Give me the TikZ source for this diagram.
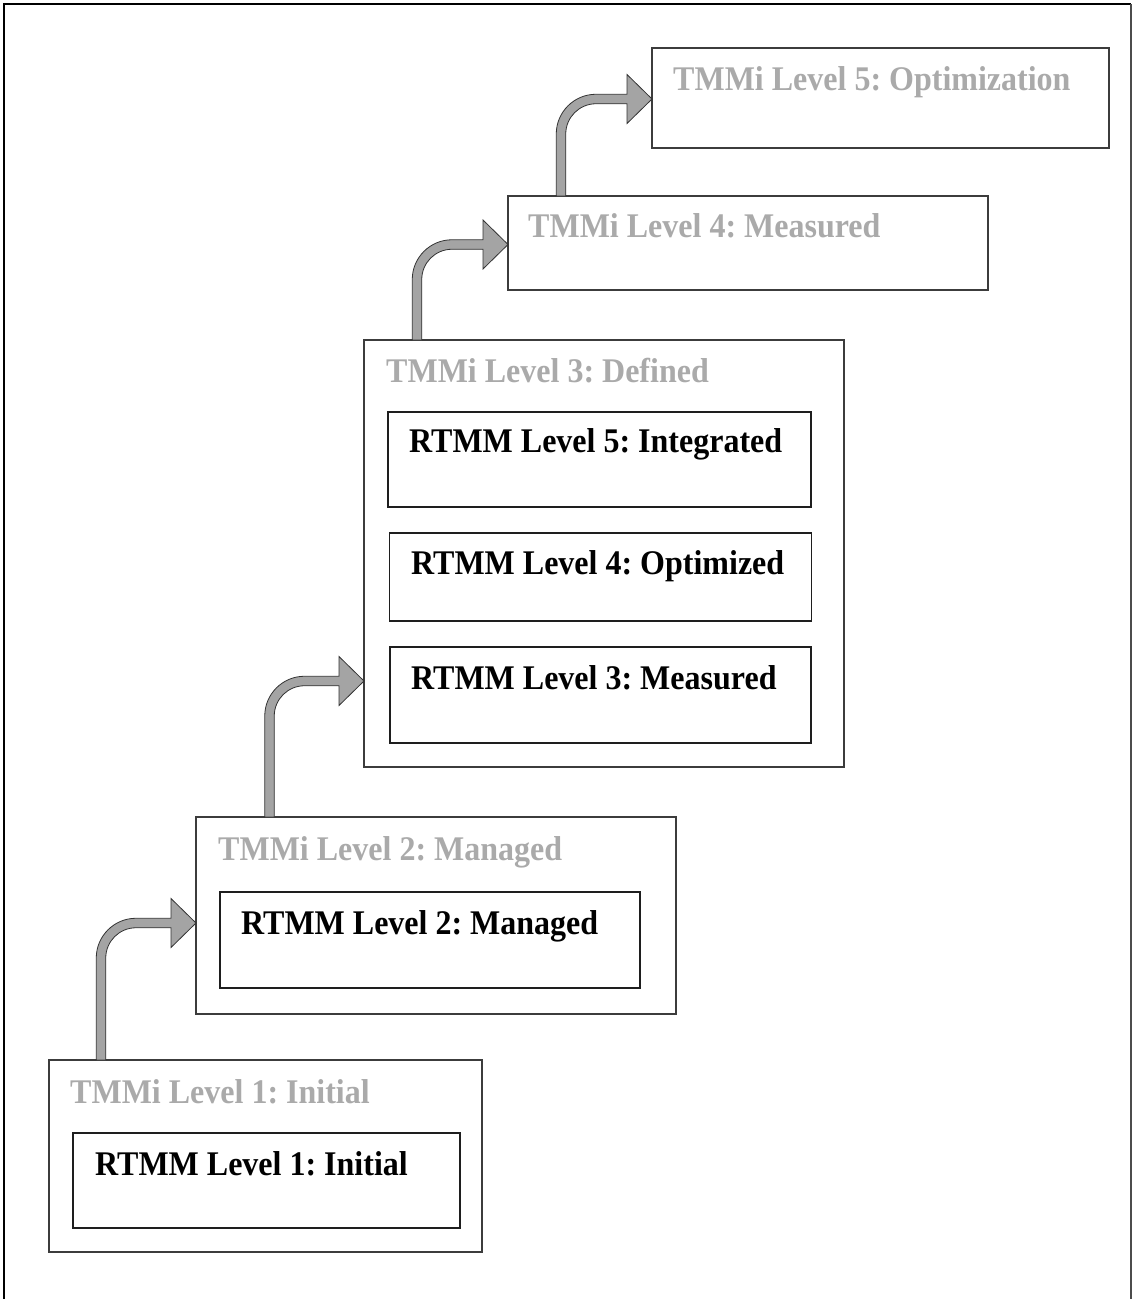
\documentclass[tikz,border=0pt]{standalone}
\usepackage{fontspec}
\setmainfont{Liberation Serif}
\usepackage{graphicx}
\usetikzlibrary{calc}
\frenchspacing

\definecolor{boxline}{HTML}{3C3C3C}
\definecolor{innerline}{HTML}{1E1E1E}
\definecolor{levelgray}{HTML}{AAAAAA}
\definecolor{arrowgray}{HTML}{A4A4A4}

\tikzset{
  levelbox/.style={draw=boxline, line width=1.2pt, rectangle, anchor=north west,
                   outer sep=0pt, inner sep=0pt},
  rtmmbox/.style={draw=innerline, line width=1.1pt, rectangle, anchor=north west,
                  outer sep=0pt, inner sep=0pt},
  tmmilabel/.style={anchor=base west, inner sep=0pt, text=levelgray,
                    font=\fontsize{32}{38}\selectfont\bfseries},
  rtmmlabel/.style={anchor=base west, inner sep=0pt, text=black,
                    font=\fontsize{32}{38}\selectfont\bfseries},
  bentarrowstyle/.style={fill=arrowgray, draw=black!80, line width=0.8pt, line join=miter},
}

% text slightly stretched vertically
\newcommand{\tallt}[1]{\scalebox{1}[1.08]{#1}}

% bent arrow: #1 = foot of the vertical shaft, #2 = tip of the head
\newcommand{\bentarrow}[2]{%
  \path[bentarrowstyle] let \p1 = #1, \p2 = #2 in
    (\x1-4.75pt,\y1) -- (\x1-4.75pt,\y2-35pt)
    .. controls (\x1-4.75pt,\y2-13.05pt) and (\x1+13.05pt,\y2+4.75pt) .. (\x1+35pt,\y2+4.75pt)
    -- (\x2-25pt,\y2+4.75pt) -- (\x2-25pt,\y2+24.5pt) -- (\x2,\y2)
    -- (\x2-25pt,\y2-24.5pt) -- (\x2-25pt,\y2-4.75pt)
    -- (\x1+35pt,\y2-4.75pt)
    .. controls (\x1+18.29pt,\y2-4.75pt) and (\x1+4.75pt,\y2-18.29pt) .. (\x1+4.75pt,\y2-35pt)
    -- (\x1+4.75pt,\y1) -- cycle;}

\begin{document}
\begin{tikzpicture}[x=1pt,y=-1pt]
  \useasboundingbox (0,0) rectangle (1132,1299);

  % page frame, open at the bottom
  \draw[line width=1.6pt, black] (4,1299) -- (4,4) -- (1131,4);
  \draw[line width=1.4pt, black!70] (1131,4) -- (1131,1299);

  % TMMi level boxes
  \node[levelbox, minimum width=433pt, minimum height=192pt] (L1) at (49,1060) {};
  \node[levelbox, minimum width=480pt, minimum height=197pt] (L2) at (196,817) {};
  \node[levelbox, minimum width=480pt, minimum height=427pt] (L3) at (364,340) {};
  \node[levelbox, minimum width=480pt, minimum height=94pt]  (L4) at (508,196) {};
  \node[levelbox, minimum width=457pt, minimum height=100pt] (L5) at (652,48) {};

  % RTMM level boxes
  \node[rtmmbox, minimum width=387pt, minimum height=95pt] (R1) at (73,1133) {};
  \node[rtmmbox, minimum width=420pt, minimum height=96pt] (R2) at (220,892) {};
  \node[rtmmbox, minimum width=421pt, minimum height=96pt] (R3) at (390,647) {};
  \node[rtmmbox, minimum width=422pt, minimum height=88pt] (R4) at (389.5,533) {};
  \node[rtmmbox, minimum width=423pt, minimum height=95pt] (R5) at (388,412) {};

  % TMMi labels
  \node[tmmilabel] (L1t) at (70,1103)  {\tallt{TMMi Level 1: Initial}};
  \node[tmmilabel] (L2t) at (218,860)  {\tallt{TMMi Level 2: Managed}};
  \node[tmmilabel] (L3t) at (386,382)  {\tallt{TMMi Level 3: Defined}};
  \node[tmmilabel] (L4t) at (528,237)  {\tallt{TMMi Level 4: Measured}};
  \node[tmmilabel] (L5t) at (673,90)   {\tallt{TMMi Level 5: Optimization}};

  % RTMM labels
  \node[rtmmlabel] (R1t) at (95,1175)  {\tallt{RTMM Level 1: Initial}};
  \node[rtmmlabel] (R2t) at (241,934)  {\tallt{RTMM Level 2: Managed}};
  \node[rtmmlabel] (R3t) at (411,689)  {\tallt{RTMM Level 3: Measured}};
  \node[rtmmlabel] (R4t) at (411,574)  {\tallt{RTMM Level 4: Optimized}};
  \node[rtmmlabel] (R5t) at (409,452)  {\tallt{RTMM Level 5: Integrated}};

  % bent arrows climbing from level to level
  \bentarrow{($(L1.north west)+(52,0)$)}{($(L2.north west)+(0,106)$)}
  \bentarrow{($(L2.north west)+(73.5,0)$)}{($(L3.north west)+(0,341)$)}
  \bentarrow{($(L3.north west)+(53,0)$)}{($(L4.north west)+(0,48.5)$)}
  \bentarrow{($(L4.north west)+(53,0)$)}{($(L5.north west)+(0,51)$)}
\end{tikzpicture}
\end{document}
